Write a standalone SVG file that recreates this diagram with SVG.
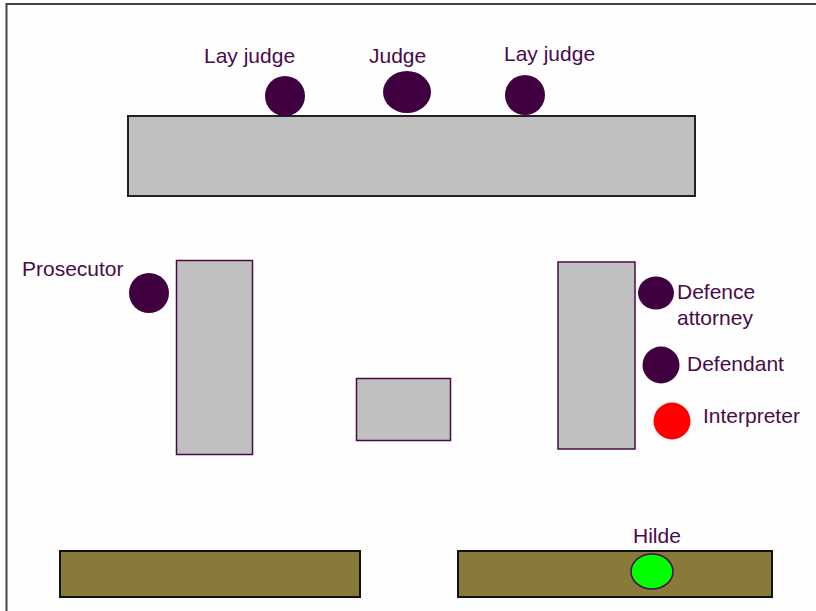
<svg xmlns="http://www.w3.org/2000/svg" width="816" height="611" viewBox="0 0 816 611">
  <style>
    .label { font-family: "Liberation Sans", Arial, sans-serif; font-size: 21px; fill: #4a0a4a; }
    .person { fill: #400040; }
    .desk { fill: #c0c0c0; stroke: #222; stroke-width: 2; }
    .table { fill: #c0c0c0; stroke: #4a0a4a; stroke-width: 1.5; }
    .bench { fill: #887a38; stroke: #111; stroke-width: 2; }
  </style>
  <rect width="816" height="611" fill="#fefefe"/>
  <!-- room frame -->
  <path d="M6.5 611 V4 H816" fill="none" stroke="#444" stroke-width="2"/>

  <!-- judges' bench -->
  <g id="judges-bench">
    <rect class="desk" x="128" y="116" width="567" height="80"/>
  </g>
  <g id="lay-judge-left">
    <circle class="person" cx="285" cy="96" r="20"/>
    <text class="label" x="204" y="63">Lay judge</text>
  </g>
  <g id="judge">
    <ellipse class="person" cx="407" cy="92" rx="24" ry="21"/>
    <text class="label" x="369" y="63">Judge</text>
  </g>
  <g id="lay-judge-right">
    <circle class="person" cx="525" cy="95" r="20"/>
    <text class="label" x="504" y="61">Lay judge</text>
  </g>

  <!-- prosecution side -->
  <g id="prosecutor-desk">
    <rect class="table" x="176.5" y="260.5" width="76" height="194"/>
  </g>
  <g id="prosecutor">
    <circle class="person" cx="149" cy="293" r="20"/>
    <text class="label" x="22" y="276">Prosecutor</text>
  </g>

  <!-- witness table -->
  <g id="centre-table">
    <rect class="table" x="356.5" y="378.5" width="94" height="62" stroke-width="2"/>
  </g>

  <!-- defence side -->
  <g id="defence-desk">
    <rect class="table" x="558" y="262" width="77" height="187"/>
  </g>
  <g id="defence-attorney">
    <ellipse class="person" cx="656" cy="293" rx="18" ry="16.5"/>
    <text class="label" x="677" y="299">Defence</text>
    <text class="label" x="677" y="325">attorney</text>
  </g>
  <g id="defendant">
    <circle class="person" cx="661" cy="365" r="18.5"/>
    <text class="label" x="687" y="371">Defendant</text>
  </g>
  <g id="interpreter">
    <circle cx="672" cy="421" r="18.5" fill="#ff0000"/>
    <text class="label" x="703" y="423">Interpreter</text>
  </g>

  <!-- public benches -->
  <g id="bench-left">
    <rect class="bench" x="60" y="551" width="300" height="46"/>
  </g>
  <g id="bench-right">
    <rect class="bench" x="458" y="551" width="314" height="46"/>
  </g>
  <g id="hilde">
    <ellipse cx="652" cy="571.5" rx="21" ry="17.5" fill="#00ff00" stroke="#4a0a4a" stroke-width="1.5"/>
    <text class="label" x="633" y="543">Hilde</text>
  </g>
</svg>
